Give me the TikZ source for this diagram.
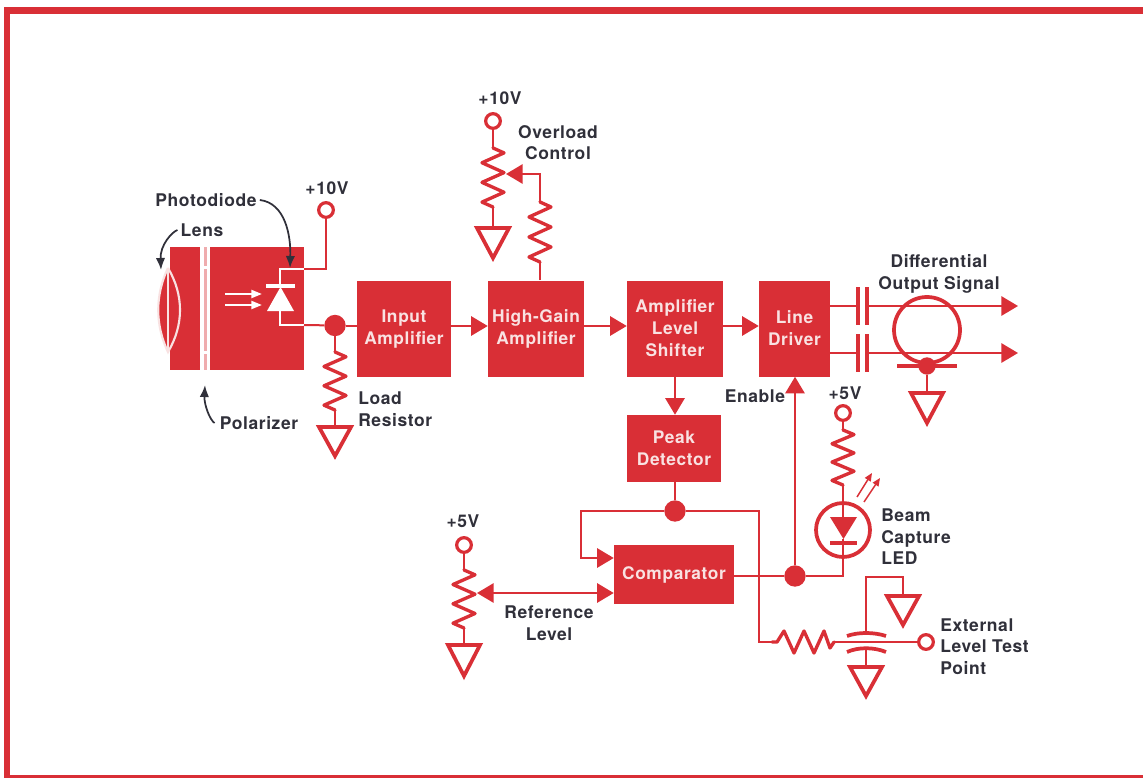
\documentclass[tikz,border=0pt]{standalone}
\usepackage{fontspec}
\setmainfont[LetterSpace=3.5]{TeX Gyre Heros}
\usetikzlibrary{arrows.meta}
\definecolor{hpred}{HTML}{D92F36}
\definecolor{hpink}{HTML}{F9E2E2}
\definecolor{ink}{HTML}{30303A}
\tikzset{
  x=0.75pt,y=-0.75pt,
  wire/.style={draw=hpred,line width=1.5pt,line join=miter},
  zig/.style={draw=hpred,line width=2.5pt,line join=round,line cap=round},
  wwire/.style={draw=white,line width=1.6pt},
  block/.style={fill=hpred,draw=none,inner sep=0pt,text=hpink,align=center,font=\fontsize{13}{16.5}\selectfont\bfseries},
  lbl/.style={text=ink,inner sep=0pt,align=center,font=\fontsize{13.1}{16.2}\selectfont\bfseries},
  lbll/.style={lbl,align=left,anchor=west},
  term/.style={circle,draw=hpred,fill=white,line width=2.4pt,minimum size=11pt,inner sep=0pt},
  dot/.style={circle,fill=hpred,draw=none,minimum size=16pt,inner sep=0pt},
  arr/.style={wire,-{Triangle[length=12.5pt,width=14.5pt]}},
  arrboth/.style={wire,{Triangle[length=12.5pt,width=14.5pt]}-{Triangle[length=12.5pt,width=14.5pt]}},
  callout/.style={draw=ink,line width=1.3pt,-{Latex[length=9pt,width=7pt]}},
  plate/.style={draw=hpred,line width=3pt},
}
\newcommand{\gnd}[4]{% name x ytop yapex
  \coordinate (#1) at (#2,#3);
  \draw[draw=hpred,line width=2.8pt,line join=miter,fill=white] (#2-16,#3)--(#2+16,#3)--(#2,#4)--cycle;
}
\newcommand{\resV}[4]{% name x y1 y2
  \coordinate (#1a) at (#2,#3);
  \coordinate (#1b) at (#2,#4);
  \draw[zig] (#2,#3)--(#2+11,#3+0.083*#4-0.083*#3)--(#2-11,#3+0.25*#4-0.25*#3)--(#2+11,#3+0.417*#4-0.417*#3)--(#2-11,#3+0.583*#4-0.583*#3)--(#2+11,#3+0.75*#4-0.75*#3)--(#2-11,#3+0.917*#4-0.917*#3)--(#2,#4);
}
\begin{document}
\begin{tikzpicture}
\useasboundingbox (0,0) rectangle (1143,778);
\fill[white] (0,0) rectangle (1143,778);
% frame
\fill[hpred] (4,7) rectangle (1143,14);
\fill[hpred] (4,7) rectangle (10,778);
\fill[hpred] (4,775) rectangle (1143,778);

% blocks
\node[block,minimum width=100.5pt,minimum height=92.25pt] (photo) at (237,308.5) {};
\node[block,minimum width=70.5pt,minimum height=72pt] (inamp) at (404,329) {Input\\Amplifier};
\node[block,minimum width=72pt,minimum height=72pt] (hgamp) at (536,328.5) {High-Gain\\Amplifier};
\node[block,minimum width=72pt,minimum height=72pt] (shift) at (675,328.5) {Amplifier\\Level\\Shifter};
\node[block,minimum width=53.25pt,minimum height=72pt] (drv) at (794.5,328.5) {Line\\Driver};
\node[block,minimum width=70.5pt,minimum height=50.25pt] (peak) at (674,448.5) {Peak\\Detector};
\node[block,minimum width=90pt,minimum height=44.25pt] (cmp) at (674,574.5) {Comparator};

% polarizer strip
\fill[white] (200,247) rectangle (210,370);
\fill[hpink!70!hpred] (203.5,247) rectangle (206.5,266);
\fill[hpink!70!hpred] (203.5,269) rectangle (206.5,351);
\fill[hpink!70!hpred] (203.5,354) rectangle (206.5,370);
% lens
\draw[draw=hpink,line width=1.6pt,fill=hpred] (168,268) .. controls (155,295) and (155,325) .. (168,352) .. controls (184,325) and (184,295) .. (168,268);
\draw[draw=hpink,line width=1.2pt] (168,268)--(168,352);
% photodiode
\coordinate (pdtop) at (280,269);
\coordinate (pdbot) at (280,325);
\coordinate (phtopedge) at (304,269);
\coordinate (phbotedge) at (304,325);
\draw[wwire] (phtopedge)--(pdtop)--(280,285) (280,311)--(pdbot)--(phbotedge);
\fill[white] (267,311)--(294,311)--(280.5,287)--cycle;
\draw[draw=white,line width=3pt] (266,285.5)--(295,285.5);
\draw[wwire,-{Triangle[length=8pt,width=6pt]}] (225,294)--(262,294);
\draw[wwire,-{Triangle[length=8pt,width=6pt]}] (225,305)--(262,305);

% supply and junction nodes
\node[term] (v10a) at (326,210) {};
\node[term] (v10b) at (493,121) {};
\node[term] (v5a) at (464,545) {};
\node[term] (v5b) at (843,413) {};
\node[term] (tp) at (926,642) {};
\node[dot] (jload) at (335,325.5) {};
\node[dot] (jpeak) at (675,511) {};
\node[dot] (jout) at (795,576) {};
\node[dot,minimum size=13pt] (jshield) at (927,366) {};

% wiring: photodiode
\draw[wire] (phtopedge)--(326,269)--(v10a);
\draw[wire] (phbotedge)--(jload);
\draw[wire] (jload)--(inamp.west |- jload);
\resV{rl}{335}{352}{410}
\gnd{gl}{335}{427}{456}
\draw[wire] (jload)--(rla) (rlb)--(gl);

% main chain
\draw[arr] (inamp.east |- 0,326)--(hgamp.west |- 0,326);
\draw[arr] (hgamp.east |- 0,326)--(shift.west |- 0,326);
\draw[arr] (shift.east |- 0,326)--(drv.west |- 0,326);
\draw[arr] (shift.south)--(peak.north -| shift.south);

% overload
\resV{ro}{493}{148}{207}
\gnd{go}{493}{228}{258}
\draw[wire] (v10b)--(roa) (rob)--(go);
\resV{rc}{540}{202}{262}
\coordinate (wipo) at (506,174);
\draw[wire] (hgamp.north -| rcb)--(rcb);
\draw[arr] (rca)--(540,174)--(wipo);

% line driver outputs
\foreach \yy/\pa/\pb in {306/287/325,353/334/372}{
  \draw[plate] (858,\pa)--(858,\pb) (867,\pa)--(867,\pb);
  \draw[wire] (drv.east |- 0,\yy)--(858,\yy);
  \draw[arr] (867,\yy)--(1018,\yy);
}
\draw[draw=hpred,line width=2.8pt] (927,330) circle[radius=33];
\draw[plate] (897,366)--(957,366);
\gnd{gs}{927}{393}{423}
\draw[wire] (jshield)--(gs);

% peak detector and comparator
\coordinate (cmpA) at (cmp.west |- 0,558);
\coordinate (cmpB) at (cmp.west |- 0,593);
\coordinate (wipr) at (477,593);
\draw[wire] (peak.south -| jpeak)--(jpeak);
\draw[arr] (jpeak)--(581,511)--(581,558)--(cmpA);
\draw[arrboth] (wipr)--(cmpB);
\resV{rr}{464}{570}{628}
\gnd{gr}{464}{645}{676}
\draw[wire] (v5a)--(rra) (rrb)--(gr);

% enable and LED
\draw[wire] (cmp.east |- jout)--(jout);
\draw[arr] (jout)--(drv.south -| jout);
\resV{rd}{843}{430}{485}
\draw[wire] (v5b)--(rda);
\draw[draw=hpred,line width=2.8pt] (843,530) circle[radius=27];
\fill[hpred] (830,517)--(857,517)--(843.5,539)--cycle;
\draw[plate] (830,543)--(857,543);
\draw[wire] (rdb)--(843,517) (843,539)--(843,576)--(jout);
\draw[wire,line width=1.1pt,-{Triangle[length=6pt,width=5pt]}] (857,497)--(872,473);
\draw[wire,line width=1.1pt,-{Triangle[length=6pt,width=5pt]}] (864,502)--(880,478);

% level test network
\coordinate (rtA) at (772,642);
\coordinate (rtB) at (834,642);
\draw[zig] (rtA)--(777,642)--(784,631)--(794,653)--(804,631)--(814,653)--(824,631)--(830,648)--(rtB);
\draw[wire] (jpeak)--(759,511)--(759,642)--(rtA);
\draw[wire] (rtB)--(tp);
\draw[draw=hpred,line width=2.8pt] (847,636) .. controls (858,632) and (874,632) .. (886,636);
\draw[draw=hpred,line width=2.8pt] (847,652) .. controls (858,647) and (874,647) .. (886,652);
\gnd{gu}{903}{596}{625}
\gnd{gb}{866}{667}{696}
\draw[wire] (866,633)--(866,577)--(903,577)--(gu);
\draw[wire] (866,649)--(gb);

% labels
\node[lbl] (tv10a) at (327,188) {+10V};
\node[lbl] (tphoto) at (206,200) {Photodiode};
\node[lbl] (tlens) at (202,230) {Lens};
\node[lbl] (tpol) at (259,423) {Polarizer};
\node[lbll] (tload) at (358,409) {Load\\Resistor};
\node[lbl] (tv10b) at (500,98) {+10V};
\node[lbl] (tover) at (558,142.5) {Overload\\Control};
\node[lbl] (tdiff) at (939,274) {Differential\\Output Signal};
\node[lbl] (tenab) at (755,396) {Enable};
\node[lbl] (tv5b) at (845,393) {+5V};
\node[lbll] (tbeam) at (881,537) {Beam\\Capture\\LED};
\node[lbl] (tv5a) at (463,521) {+5V};
\node[lbl] (tref) at (549,623) {Reference\\Level};
\node[lbll] (text) at (940,646.5) {External\\Level Test\\Point};

% callouts
\draw[callout] (tphoto.east)++(3,0) .. controls (285,203) and (291,235) .. (290,268);
\draw[callout] (tlens.west)++(-3,0) .. controls (172,232) and (160,245) .. (161,270);
\draw[callout] (tpol.west)++(-5,0) .. controls (210,420) and (204,405) .. (205,385);
\end{tikzpicture}
\end{document}
